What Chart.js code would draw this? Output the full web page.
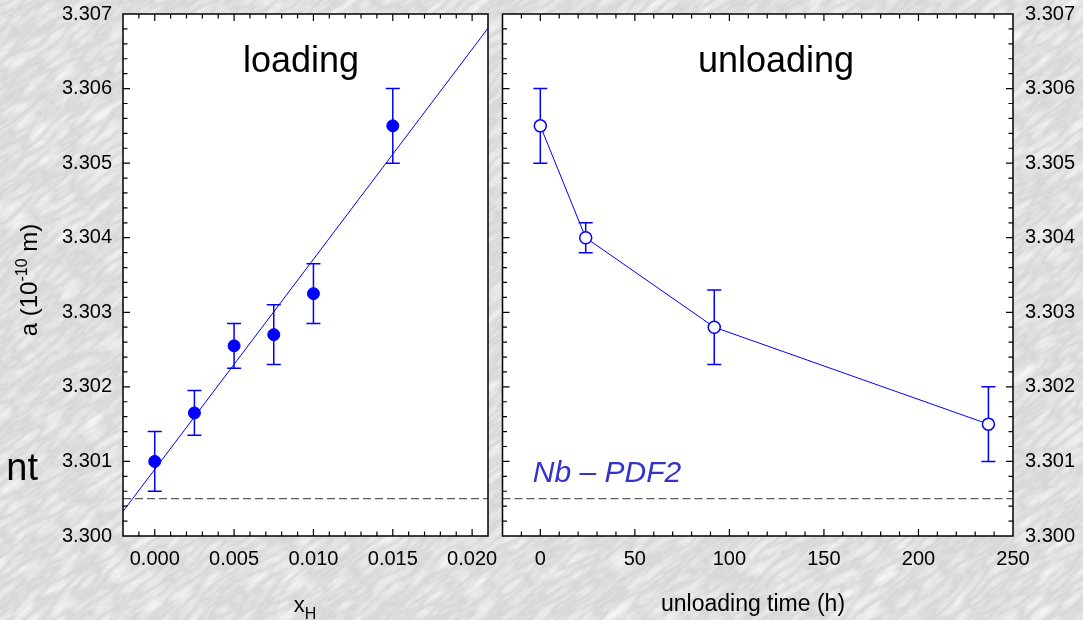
<!DOCTYPE html>
<html>
<head>
<meta charset="utf-8">
<script src="https://cdn.jsdelivr.net/npm/chart.js@4.4.1/dist/chart.umd.min.js"></script>
<style>
  html, body { margin: 0; padding: 0; }
  body { width: 1083px; height: 620px; position: relative; overflow: hidden; background-color: #d7d7d7; }
  canvas { position: absolute; top: 0; }
  #loadChart { left: 0; }
  #unloadChart { left: 495px; }
</style>
</head>
<body>
<canvas id="loadChart" width="500" height="620"></canvas>
<canvas id="unloadChart" width="588" height="620"></canvas>
<script>
// lattice parameter a (10^-10 m) while loading with hydrogen
const loadX = [0.000, 0.0025, 0.005, 0.0075, 0.010, 0.015];
const loadA = [3.3010, 3.30165, 3.30255, 3.3027, 3.30325, 3.3055];
const loadErr = [0.0004, 0.0003, 0.0003, 0.0004, 0.0004, 0.0005];

// linear fit, ends at the axis limits
const fitX = [-0.002, 0.021];
const fitA = [3.30033, 3.30681];

// unloading
const unloadT = [0, 24, 92, 237];
const unloadA = [3.3055, 3.3040, 3.3028, 3.3015];
const unloadErr = [0.0005, 0.0002, 0.0005, 0.0005];

// hydrogen-free reference value (dashed)
const refA = 3.3005;

const aTicks = [3.300, 3.301, 3.302, 3.303, 3.304, 3.305, 3.306, 3.307];
const xhTicks = [0.000, 0.005, 0.010, 0.015, 0.020];
const timeTicks = [0, 50, 100, 150, 200, 250];

const BLUE = '#0000ff';
const FONT = '"Liberation Sans", Arial, Helvetica, sans-serif';
Chart.defaults.font.family = FONT;
Chart.defaults.color = '#000';

function drawRuns(ctx, runs, x, y, rot, align) {
  ctx.save();
  ctx.translate(x, y);
  if (rot) ctx.rotate(rot);
  let w = 0;
  runs.forEach(r => { ctx.font = r.font; w += ctx.measureText(r.t).width; });
  let cx = align === 'right' ? -w : -w / 2;
  runs.forEach(r => {
    ctx.font = r.font;
    ctx.fillStyle = r.color || '#000';
    ctx.textAlign = 'left';
    ctx.textBaseline = 'alphabetic';
    ctx.fillText(r.t, cx, r.dy || 0);
    cx += ctx.measureText(r.t).width;
  });
  ctx.restore();
}

// white plot box, error bars, frame with inward ticks, labels
const panel = {
  id: 'panel',
  beforeDraw(chart) {
    const { ctx, chartArea: c } = chart;
    ctx.save();
    ctx.fillStyle = '#fff';
    ctx.fillRect(c.left, c.top, c.right - c.left, c.bottom - c.top);
    ctx.restore();
  },
  beforeDatasetsDraw(chart, args, opts) {
    const { ctx } = chart;
    const xs = chart.scales.x, ys = chart.scales.y;
    const pts = chart.data.datasets[0].data;
    ctx.save();
    ctx.strokeStyle = BLUE;
    ctx.lineWidth = 1.5;
    pts.forEach((p, i) => {
      const px = xs.getPixelForValue(p.x);
      const y1 = ys.getPixelForValue(p.y + opts.err[i]);
      const y2 = ys.getPixelForValue(p.y - opts.err[i]);
      ctx.beginPath();
      ctx.moveTo(px, y1); ctx.lineTo(px, y2);
      ctx.moveTo(px - 7, y1); ctx.lineTo(px + 7, y1);
      ctx.moveTo(px - 7, y2); ctx.lineTo(px + 7, y2);
      ctx.stroke();
    });
    ctx.restore();
  },
  afterDraw(chart, args, opts) {
    const { ctx, chartArea: c } = chart;
    const xs = chart.scales.x, ys = chart.scales.y;
    ctx.save();
    ctx.strokeStyle = '#000';
    ctx.lineWidth = 1.5;
    ctx.strokeRect(c.left, c.top, c.right - c.left, c.bottom - c.top);

    ctx.lineWidth = 1.2;
    const marks = (scale, minor, major) => {
      const out = [];
      const n = Math.round((scale.max - scale.min) / minor);
      for (let k = 1; k < n; k++) {
        const v = scale.min + k * minor;
        const q = v / major;
        out.push({ p: scale.getPixelForValue(v), big: Math.abs(q - Math.round(q)) < 1e-6 });
      }
      return out;
    };
    ctx.beginPath();
    marks(xs, opts.xMinor, opts.xMajor).forEach(m => {
      const len = m.big ? 7 : 4.5;
      if (opts.sides.includes('bottom')) { ctx.moveTo(m.p, c.bottom); ctx.lineTo(m.p, c.bottom - len); }
      if (opts.sides.includes('top')) { ctx.moveTo(m.p, c.top); ctx.lineTo(m.p, c.top + len); }
    });
    marks(ys, 0.0002, 0.001).forEach(m => {
      const len = m.big ? 7 : 4.5;
      if (opts.sides.includes('left')) { ctx.moveTo(c.left, m.p); ctx.lineTo(c.left + len, m.p); }
      if (opts.sides.includes('right')) { ctx.moveTo(c.right, m.p); ctx.lineTo(c.right - len, m.p); }
    });
    ctx.stroke();
    ctx.restore();

    (opts.texts || []).forEach(t => drawRuns(ctx, t.runs, t.x, t.y, t.rot, t.align));
  }
};

function axisY(pos, pad, width) {
  return {
    type: 'linear', position: pos, min: 3.300, max: 3.307,
    grid: { display: false, drawTicks: false }, border: { display: false },
    ticks: { padding: pad, font: { size: 20 }, color: '#000', autoSkip: false, callback: v => v.toFixed(3) },
    afterBuildTicks: s => { s.ticks = aTicks.map(v => ({ value: v })); },
    afterFit: s => { s.width = width; s.paddingTop = 0; s.paddingBottom = 0; }
  };
}

function axisX(min, max, ticks, fmt) {
  return {
    type: 'linear', min: min, max: max,
    grid: { display: false, drawTicks: false }, border: { display: false },
    ticks: { padding: 11, font: { size: 20 }, color: '#000', autoSkip: false, maxRotation: 0, minRotation: 0, callback: fmt },
    afterBuildTicks: s => { s.ticks = ticks.map(v => ({ value: v })); },
    afterFit: s => { s.height = 84; s.paddingLeft = 0; s.paddingRight = 0; }
  };
}

const common = {
  animation: false,
  responsive: false,
  events: [],
  plugins: { legend: { display: false }, tooltip: { enabled: false } }
};

// loading panel
new Chart(document.getElementById('loadChart'), {
  type: 'scatter',
  data: {
    datasets: [
      {
        data: loadX.map((x, i) => ({ x: x, y: loadA[i] })),
        pointRadius: 6, pointBackgroundColor: BLUE, pointBorderColor: BLUE, pointBorderWidth: 1
      },
      {
        data: fitX.map((x, i) => ({ x: x, y: fitA[i] })),
        showLine: true, pointRadius: 0, borderColor: BLUE, borderWidth: 1
      },
      {
        data: fitX.map(x => ({ x: x, y: refA })),
        showLine: true, pointRadius: 0, borderColor: '#333', borderWidth: 1, borderDash: [8, 4]
      }
    ]
  },
  options: Object.assign({}, common, {
    layout: { padding: { top: 14, right: 12, left: 0, bottom: 0 } },
    scales: {
      x: axisX(-0.002, 0.021, xhTicks, v => v.toFixed(3)),
      y: axisY('left', 11, 123)
    },
    plugins: Object.assign({}, common.plugins, {
      panel: {
        err: loadErr, xMinor: 0.001, xMajor: 0.005, sides: ['left', 'top', 'bottom'],
        texts: [
          { x: 301, y: 72, runs: [{ t: 'loading', font: '36px ' + FONT }] },
          { x: 305, y: 612, runs: [{ t: 'x', font: '22px ' + FONT }, { t: 'H', font: '16px ' + FONT, dy: 7 }] },
          { x: 37, y: 280, rot: -Math.PI / 2, runs: [
            { t: 'a (10', font: '24px ' + FONT },
            { t: '-10', font: '16px ' + FONT, dy: -10 },
            { t: ' m)', font: '24px ' + FONT }
          ] },
          { x: 38, y: 480, align: 'right', runs: [{ t: 'nt', font: '38px ' + FONT }] }
        ]
      }
    })
  }),
  plugins: [panel]
});

// unloading panel
new Chart(document.getElementById('unloadChart'), {
  type: 'scatter',
  data: {
    datasets: [
      {
        data: unloadT.map((t, i) => ({ x: t, y: unloadA[i] })),
        showLine: true, borderColor: BLUE, borderWidth: 1,
        pointRadius: 6, pointBackgroundColor: '#fff', pointBorderColor: BLUE, pointBorderWidth: 1.5
      },
      {
        data: [-20, 250].map(x => ({ x: x, y: refA })),
        showLine: true, pointRadius: 0, borderColor: '#333', borderWidth: 1, borderDash: [8, 4]
      }
    ]
  },
  options: Object.assign({}, common, {
    layout: { padding: { top: 14, right: 0, left: 3, bottom: 0 } },
    scales: {
      x: axisX(-20, 250, timeTicks, v => String(v)),
      y: axisY('right', 12, 70)
    },
    plugins: Object.assign({}, common.plugins, {
      panel: {
        err: unloadErr, xMinor: 10, xMajor: 50, sides: ['left', 'right', 'top', 'bottom'],
        texts: [
          { x: 281, y: 72, runs: [{ t: 'unloading', font: '36px ' + FONT }] },
          { x: 258, y: 611, runs: [{ t: 'unloading time (h)', font: '23px ' + FONT }] },
          { x: 112, y: 482, runs: [{ t: 'Nb \u2013 PDF2', font: 'italic 30px ' + FONT, color: '#3333cc' }] }
        ]
      }
    })
  }),
  plugins: [panel]
});

// grey marble backdrop: light veins running up to the right
const marble = "<svg xmlns='http://www.w3.org/2000/svg' width='1083' height='620'>" +
  "<filter id='m' x='0' y='0' width='100%' height='100%'>" +
  "<feTurbulence type='turbulence' baseFrequency='0.03 0.11' numOctaves='3' seed='7'/>" +
  "<feColorMatrix type='matrix' values='0 0 0 0 1  0 0 0 0 1  0 0 0 0 1  1.1 0 0 0 -0.1'/>" +
  "</filter>" +
  "<g transform='rotate(-38 541 310)'><rect x='-500' y='-500' width='2100' height='1600' filter='url(#m)'/></g>" +
  "</svg>";
document.body.style.backgroundImage = 'url("data:image/svg+xml,' + encodeURIComponent(marble) + '")';
</script>
</body>
</html>
